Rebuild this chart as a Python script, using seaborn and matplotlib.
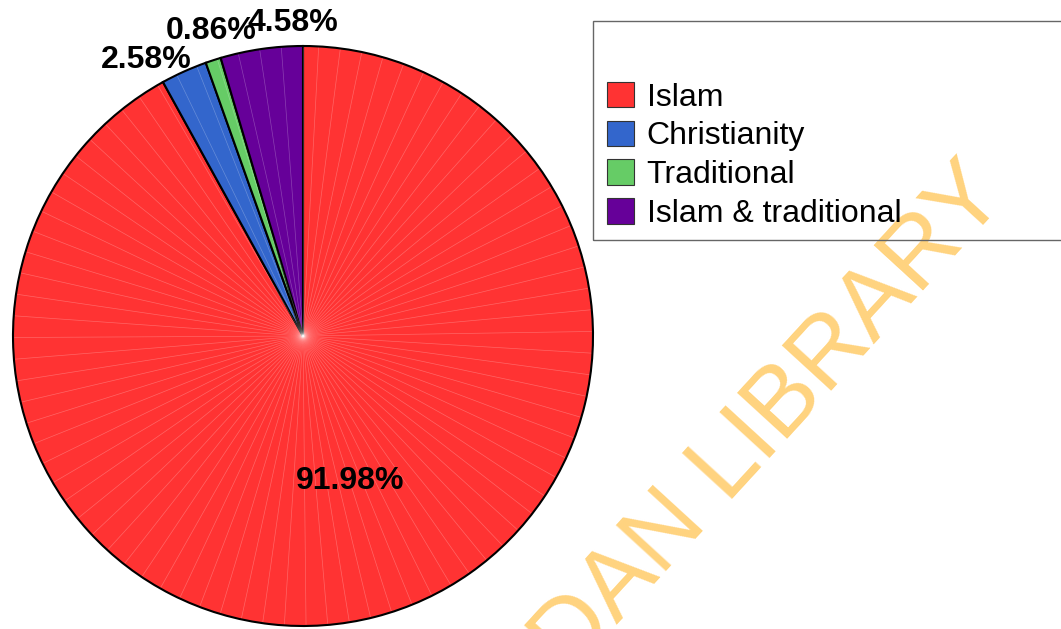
import numpy as np
import matplotlib
matplotlib.use("Agg")
import matplotlib.pyplot as plt
from matplotlib.patches import Rectangle, Patch
import seaborn as sns

# Religious affiliation shares (%)
religions = ["Islam", "Christianity", "Traditional", "Islam & traditional"]
shares = [91.98, 2.58, 0.86, 4.58]
colors = ["#FF3333", "#3366CC", "#66CC66", "#660099"]

sns.set_style("white")
plt.rcParams["font.family"] = ["Liberation Sans", "DejaVu Sans"]

W, H, DPI = 1061, 629, 100
fig = plt.figure(figsize=(W / DPI, H / DPI), dpi=DPI)

# pie axes: centre (303, 336) px, radius 290 px
cx, cy, r = 303, 336, 290
ax = fig.add_axes([(cx - r) / W, (H - cy - r) / H, 2 * r / W, 2 * r / H])

wedges, _ = ax.pie(
    shares, colors=colors, startangle=90, counterclock=False, radius=1.0,
    wedgeprops=dict(edgecolor="black", linewidth=1.5),
)
ax.set_xlim(-1, 1)
ax.set_ylim(-1, 1)
ax.set_aspect("equal")
ax.axis("off")

# faint radial facets across the disc
for ang in np.arange(90, 450, 4.3):
    a = np.deg2rad(ang)
    ax.plot([0, 0.995 * np.cos(a)], [0, 0.995 * np.sin(a)],
            color="white", lw=0.5, alpha=0.25, zorder=3)

# percentage labels
label_pos = {  # (radius, angle in degrees)
    0: (0.526, -72.0),
    1: (1.095, 119.6),
    2: (1.10, 106.8),
    3: (1.08, 91.8),
}
for i, v in enumerate(shares):
    rr, ang = label_pos[i]
    a = np.deg2rad(ang)
    ax.text(rr * np.cos(a), rr * np.sin(a), f"{v:.2f}%",
            ha="center", va="center", fontsize=23, fontweight="bold",
            color="black", zorder=5, clip_on=False)

# legend box
fig.patches.append(Rectangle((593 / W, (H - 240) / H), 0.5, 219 / H,
                             transform=fig.transFigure, fill=False,
                             edgecolor="#666666", linewidth=1.0, zorder=1))
handles = [Patch(facecolor=c, edgecolor="#333333", linewidth=0.8) for c in colors]
leg = fig.legend(handles, religions, loc="upper left",
                 bbox_to_anchor=(594 / W, (H - 69) / H), frameon=False,
                 fontsize=23, handlelength=0.85, handleheight=0.85,
                 handletextpad=0.4, labelspacing=0.25, borderaxespad=0)
for t in leg.get_texts():
    t.set_color("black")

# watermark
fig.text(717 / W, (H - 478) / H, "IBADAN LIBRARY", rotation=47.5,
         rotation_mode="anchor", ha="center", va="center",
         fontsize=70.5, color="#FFD37F", zorder=0)

fig.savefig("out.png", dpi=DPI)
